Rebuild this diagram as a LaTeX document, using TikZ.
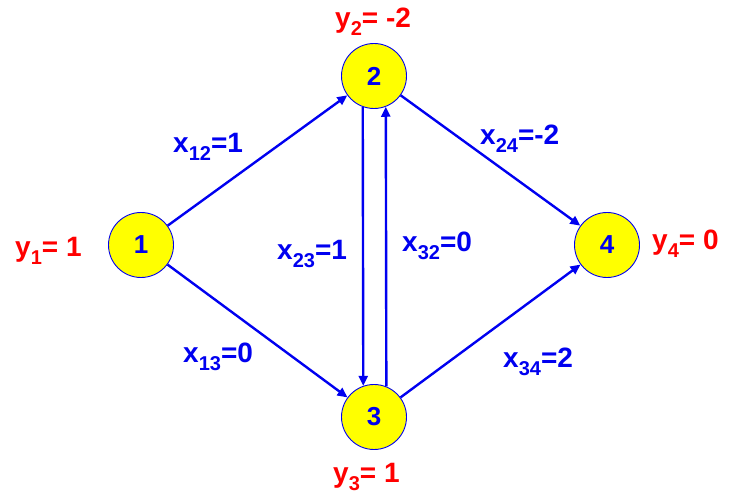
\documentclass[tikz,border=0pt]{standalone}
\usepackage{fontspec}
\setmainfont{Liberation Sans}
\usetikzlibrary{arrows.meta}
\definecolor{eblue}{RGB}{0,0,240}
\definecolor{lred}{RGB}{255,0,0}
\definecolor{nyellow}{RGB}{255,255,0}
\newcommand{\subs}[1]{\raisebox{-7.5pt}{\fontsize{20}{20}\selectfont #1}}
\tikzset{
  vert/.style={circle, draw=eblue, line width=0.9pt, fill=nyellow, minimum size=65pt, inner sep=0pt,
    text=eblue, font=\fontsize{26}{26}\selectfont\bfseries},
  edge/.style={draw=eblue, line width=2.4pt, -{Triangle[length=10pt,width=9pt]}},
  xlab/.style={anchor=base west, inner sep=0pt, text=eblue, font=\fontsize{28}{28}\selectfont\bfseries},
  ylab/.style={anchor=base west, inner sep=0pt, text=lred, font=\fontsize{28}{28}\selectfont\bfseries}
}
\begin{document}
\begin{tikzpicture}[x=1pt,y=1pt]
\useasboundingbox (0,0) rectangle (730,494);
\node[vert] (n1) at (141,249) {1};
\node[vert] (n2) at (374,418) {2};
\node[vert] (n3) at (374,77) {3};
\node[vert] (n4) at (607,249) {4};
\path[edge] (n1) -- (n2);
\path[edge] (n1) -- (n3);
\path[edge] (n2) -- (n4);
\path[edge] (n3) -- (n4);
\path[edge] (n2.250.5) -- (n3.109.5);
\path[edge] (n3.68.7) -- (n2.291.3);
\node[xlab] (l12) at (173,341) {x\subs{12}=1};
\node[xlab] (l24) at (480,349) {x\subs{24}=-2};
\node[xlab] (l23) at (277,234) {x\subs{23}=1};
\node[xlab] (l32) at (402,242) {x\subs{32}=0};
\node[xlab] (l13) at (183,131) {x\subs{13}=0};
\node[xlab] (l34) at (503,126) {x\subs{34}=2};
\node[ylab] (y1) at (15,237) {y\subs{1}= 1};
\node[ylab] (y2) at (335,466) {y\subs{2}= -2};
\node[ylab] (y3) at (333,11) {y\subs{3}= 1};
\node[ylab] (y4) at (652,244) {y\subs{4}= 0};
\end{tikzpicture}
\end{document}
